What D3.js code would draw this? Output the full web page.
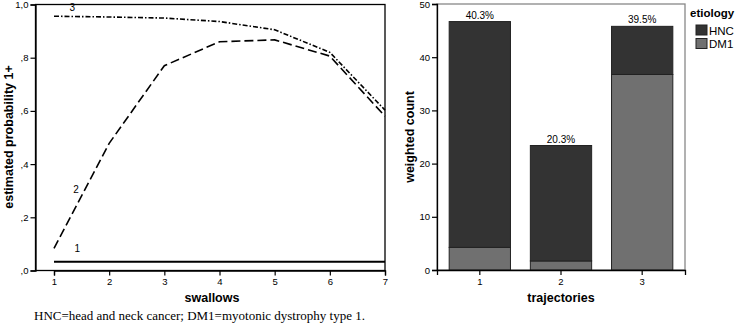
<!DOCTYPE html>
<html>
<head>
<meta charset="UTF-8" />
<title>Trajectories</title>
<script src="https://cdn.jsdelivr.net/npm/d3@7"></script>
<style>
	body { margin: 0; background: #fff; }
	text { font-family: "Liberation Sans", Arial, sans-serif; }
	text.caption { font-family: "Liberation Serif", "Times New Roman", serif; }
</style>
</head>
<body>
<svg id="vis" width="738" height="325"></svg>
<script>
	// left panel: estimated probability per swallow
	const swallows = [1, 2, 3, 4, 5, 6, 7];
	const traj1 = [0.033, 0.033, 0.033, 0.033, 0.033, 0.033, 0.033];
	const traj2 = [0.083, 0.478, 0.770, 0.860, 0.867, 0.806, 0.580];
	const traj3 = [0.956, 0.953, 0.949, 0.936, 0.905, 0.820, 0.603];
	const probTicks = [0, 0.2, 0.4, 0.6, 0.8, 1.0];
	const probTickLabels = [",0", ",2", ",4", ",6", ",8", "1,0"];

	// right panel: weighted count per trajectory
	const trajectories = ["1", "2", "3"];
	const hnc = [42.45, 21.7, 9.05];
	const dm1 = [4.25, 1.7, 36.75];
	const pctLabels = ["40.3%", "20.3%", "39.5%"];
	const countTicks = [0, 10, 20, 30, 40, 50];

	const svg = d3.select("#vis");

	// ---------- left chart ----------
	let xL = d3.scaleLinear().domain([1, 7]).range([54, 385]);
	let yL = d3.scaleLinear().domain([0, 1]).range([270.5, 4.5]);

	let gL = svg.append("g");

	gL.append("rect")
		.attr("x", 35.5).attr("y", 4.5)
		.attr("width", 385 - 35.5).attr("height", 270.5 - 4.5)
		.attr("fill", "none").attr("stroke", "#000").attr("stroke-width", 1.3);

	let yAxisL = d3.axisLeft(yL).tickValues(probTicks)
		.tickFormat((d, i) => probTickLabels[i]).tickSize(5).tickPadding(2);
	gL.append("g").attr("transform", "translate(35.5,0)").call(yAxisL);

	let xAxisL = d3.axisBottom(xL).tickValues(swallows).tickFormat(d3.format("d")).tickSize(5).tickPadding(3);
	gL.append("g").attr("transform", "translate(0,270.5)").call(xAxisL);

	let line = d3.line().x((d, i) => xL(swallows[i])).y(d => yL(d));

	gL.append("path").datum(traj1).attr("d", line)
		.attr("fill", "none").attr("stroke", "#000").attr("stroke-width", 2);
	gL.append("path").datum(traj2).attr("d", line)
		.attr("fill", "none").attr("stroke", "#000").attr("stroke-width", 1.6)
		.attr("stroke-dasharray", "9,4");
	gL.append("path").datum(traj3).attr("d", line)
		.attr("fill", "none").attr("stroke", "#000").attr("stroke-width", 1.6)
		.attr("stroke-dasharray", "5,2,1.5,2");

	// line number labels
	const lineLabels = [["1", 1.42, traj1[0] + 0.035], ["2", 1.4, 0.29], ["3", 1.33, traj3[0] + 0.02]];
	gL.selectAll(".lbl").data(lineLabels).enter().append("text")
		.attr("x", d => xL(d[1])).attr("y", d => yL(d[2]))
		.attr("font-size", 10).attr("text-anchor", "middle").text(d => d[0]);

	gL.append("text").attr("x", 212).attr("y", 302)
		.attr("text-anchor", "middle").attr("font-size", 12.5).attr("font-weight", "bold").text("swallows");
	gL.append("text").attr("transform", "translate(13,137) rotate(-90)")
		.attr("text-anchor", "middle").attr("font-size", 12.5).attr("font-weight", "bold").text("estimated probability 1+");

	// ---------- right chart ----------
	let xR = d3.scaleBand().domain(trajectories).range([437, 685]).paddingInner(0.245).paddingOuter(0.15);
	let yR = d3.scaleLinear().domain([0, 50]).range([270, 4]);

	let gR = svg.append("g");

	gR.append("rect")
		.attr("x", 437).attr("y", 4)
		.attr("width", 685 - 437).attr("height", 270 - 4)
		.attr("fill", "none").attr("stroke", "#888").attr("stroke-width", 1.3);

	// DM1 at bottom, HNC on top
	gR.selectAll(".dm1").data(dm1).enter().append("rect")
		.attr("x", (d, i) => xR(trajectories[i]))
		.attr("width", xR.bandwidth())
		.attr("y", d => yR(d))
		.attr("height", d => yR(0) - yR(d))
		.attr("fill", "#707070").attr("stroke", "#222").attr("stroke-width", 1);
	gR.selectAll(".hnc").data(hnc).enter().append("rect")
		.attr("x", (d, i) => xR(trajectories[i]))
		.attr("width", xR.bandwidth())
		.attr("y", (d, i) => yR(d + dm1[i]))
		.attr("height", (d, i) => yR(dm1[i]) - yR(d + dm1[i]))
		.attr("fill", "#333333").attr("stroke", "#222").attr("stroke-width", 1);

	gR.selectAll(".pct").data(pctLabels).enter().append("text")
		.attr("x", (d, i) => xR(trajectories[i]) + xR.bandwidth() / 2)
		.attr("y", (d, i) => yR(hnc[i] + dm1[i]) - 3)
		.attr("text-anchor", "middle").attr("font-size", 10).text(d => d);

	let yAxisR = d3.axisLeft(yR).tickValues(countTicks).tickSize(5).tickPadding(2);
	gR.append("g").attr("transform", "translate(437,0)").call(yAxisR);
	let xAxisR = d3.axisBottom(xR).tickSize(5).tickPadding(3);
	gR.append("g").attr("transform", "translate(0,270)").call(xAxisR);

	gR.append("text").attr("x", 561).attr("y", 302)
		.attr("text-anchor", "middle").attr("font-size", 12.5).attr("font-weight", "bold").text("trajectories");
	gR.append("text").attr("transform", "translate(414,137) rotate(-90)")
		.attr("text-anchor", "middle").attr("font-size", 12.5).attr("font-weight", "bold").text("weighted count");

	// legend
	const legendKeys = ["HNC", "DM1"];
	const legendColors = ["#333333", "#707070"];
	gR.append("text").attr("x", 690).attr("y", 17)
		.attr("font-size", 11.5).attr("font-weight", "bold").text("etiology");
	legendKeys.forEach((k, i) => {
		gR.append("rect").attr("x", 696).attr("y", 25 + i * 13.5).attr("width", 11).attr("height", 10)
			.attr("fill", legendColors[i]).attr("stroke", "#222");
		gR.append("text").attr("x", 709).attr("y", 34.5 + i * 13.5).attr("font-size", 11.5).text(k);
	});

	// styling axes
	svg.selectAll(".tick text").attr("font-size", 9.5).attr("fill", "#000");
	svg.selectAll(".domain").attr("stroke-width", 1.3);
	svg.selectAll(".tick line").attr("stroke-width", 1.2);

	// caption
	svg.append("text").attr("class", "caption").attr("x", 34).attr("y", 320)
		.attr("font-size", 13)
		.text("HNC=head and neck cancer; DM1=myotonic dystrophy type 1.");
</script>
</body>
</html>
